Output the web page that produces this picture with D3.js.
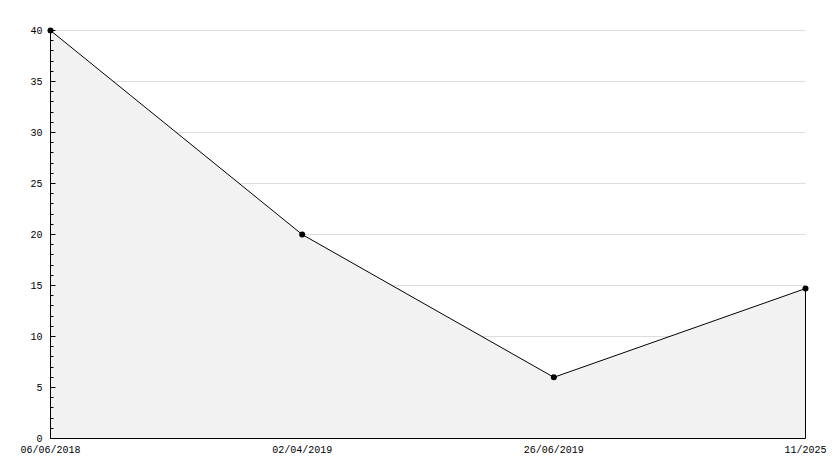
<!DOCTYPE html>
<html>
<head>
<meta charset="utf-8">
<script src="https://cdnjs.cloudflare.com/ajax/libs/d3/7.8.5/d3.min.js"></script>
<style>
  body { margin: 0; background: #fff; }
  svg { display: block; }
  text { font-family: "Liberation Mono", "DejaVu Sans Mono", monospace; font-size: 10px; fill: #000; }
</style>
</head>
<body>
<div id="chart"></div>
<script>
var dates = ["06/06/2018", "02/04/2019", "26/06/2019", "11/2025"];
var values = [40, 20, 6, 14.7];
var yTicks = [0, 5, 10, 15, 20, 25, 30, 35, 40];

var width = 834, height = 468;
var plotLeft = 50.5, plotRight = 805.5, plotTop = 30.5, plotBottom = 438.5;

var svg = d3.select("#chart").append("svg")
    .attr("width", width)
    .attr("height", height);

var x = d3.scalePoint()
    .domain(dates)
    .range([plotLeft, plotRight]);

var y = d3.scaleLinear()
    .domain([0, 40])
    .range([plotBottom, plotTop]);

function snap(v) { return Math.round(v - 0.5) + 0.5; }

// grid lines
svg.append("g").selectAll("line")
    .data(yTicks.filter(function(d) { return d > 0; }))
    .enter().append("line")
    .attr("x1", plotLeft).attr("x2", plotRight)
    .attr("y1", function(d) { return snap(y(d)); })
    .attr("y2", function(d) { return snap(y(d)); })
    .attr("stroke", "#dddddd");

var pts = dates.map(function(d, i) { return [d, values[i]]; });

// filled area
var area = d3.area()
    .x(function(d) { return x(d[0]); })
    .y0(plotBottom)
    .y1(function(d) { return y(d[1]); });

svg.append("path")
    .datum(pts)
    .attr("d", area)
    .attr("fill", "#f2f2f2")
    .attr("stroke", "none");

var line = d3.line()
    .x(function(d) { return x(d[0]); })
    .y(function(d) { return y(d[1]); });

svg.append("path")
    .datum(pts)
    .attr("d", line)
    .attr("fill", "none")
    .attr("stroke", "#000")
    .attr("stroke-width", 1);

// right edge and bottom line of the area
var lastX = x(dates[dates.length - 1]);
svg.append("line")
    .attr("x1", lastX).attr("x2", lastX)
    .attr("y1", y(values[values.length - 1])).attr("y2", plotBottom)
    .attr("stroke", "#000");
svg.append("line")
    .attr("x1", plotLeft).attr("x2", plotRight)
    .attr("y1", plotBottom).attr("y2", plotBottom)
    .attr("stroke", "#000");

// y axis with ticks on the inside
var ay = svg.append("g").attr("transform", "translate(" + plotLeft + ",0)");
ay.append("line")
    .attr("x1", 0).attr("x2", 0)
    .attr("y1", plotTop).attr("y2", plotBottom)
    .attr("stroke", "#000");
ay.selectAll("line.tk")
    .data(d3.range(0, 41, 1))
    .enter().append("line")
    .attr("class", "tk")
    .attr("x1", 0)
    .attr("x2", function(d) { return d % 5 === 0 ? 5 : 3; })
    .attr("y1", function(d) { return snap(y(d)); })
    .attr("y2", function(d) { return snap(y(d)); })
    .attr("stroke", "#000");
ay.selectAll("text")
    .data(yTicks)
    .enter().append("text")
    .attr("x", -8)
    .attr("y", function(d) { return y(d); })
    .attr("dy", "0.35em")
    .attr("text-anchor", "end")
    .text(function(d) { return d; });

// x labels
svg.append("g").selectAll("text")
    .data(dates)
    .enter().append("text")
    .attr("x", function(d) { return x(d); })
    .attr("y", 453)
    .attr("text-anchor", "middle")
    .text(function(d) { return d; });

// markers
svg.append("g").selectAll("circle")
    .data(pts)
    .enter().append("circle")
    .attr("cx", function(d) { return x(d[0]); })
    .attr("cy", function(d) { return y(d[1]); })
    .attr("r", 3)
    .attr("fill", "#000");
</script>
</body>
</html>
